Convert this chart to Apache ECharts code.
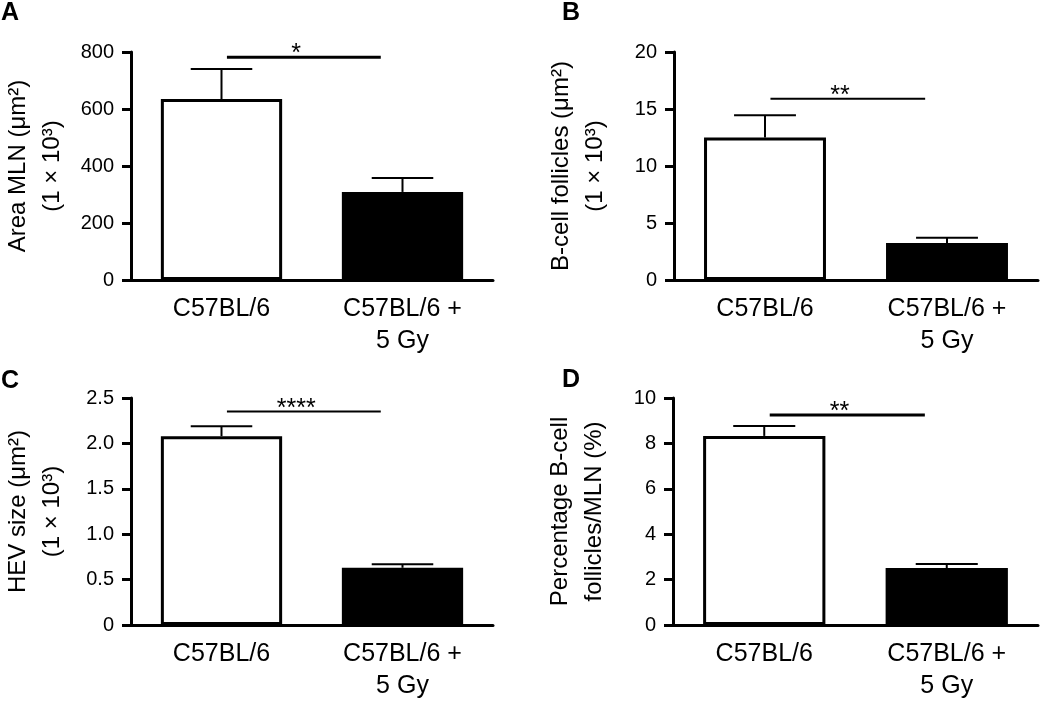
<!DOCTYPE html>
<html>
<head>
<meta charset="utf-8">
<title>MLN morphometry</title>
<script src="https://cdn.jsdelivr.net/npm/echarts@6/dist/echarts.min.js"></script>
<style>
  html, body { margin: 0; padding: 0; background: #fff; }
  #chart { width: 1050px; height: 702px; }
</style>
</head>
<body>
<div id="chart"></div>
<script>
// groups on the x axis
const categories = ['C57BL/6', 'C57BL/6 +\n5 Gy']

// A: area MLN (um2, x10^3)
const mlnArea = [635, 309]
const mlnAreaSem = [105, 49]
// B: B-cell follicles (um2, x10^3)
const follicleArea = [12.5, 3.25]
const follicleAreaSem = [1.95, 0.45]
// C: HEV size (um2, x10^3)
const hevSize = [2.08, 0.63]
const hevSizeSem = [0.11, 0.04]
// D: percentage B-cell follicles / MLN
const follicleShare = [8.33, 2.51]
const follicleShareSem = [0.44, 0.18]

// significance bars (height on each y axis) and their labels
const sigLevel = [782, 15.9, 2.35, 9.25]
const sigStars = ['*', '**', '****', '**']

// y axis ranges
const yMax = [800, 20, 2.5, 10]
const yStep = [200, 5, 0.5, 2]

const FONT = 'Liberation Sans, Arial, sans-serif'

// one entry per panel: where it sits and how it is labelled
const panels = [
  { letter: 'A', mean: mlnArea, sem: mlnAreaSem, name: 'Area MLN (μm²)\n(1 × 10³)',
    grid: { left: 122, right: 557, top: 52, height: 228 }, letterPos: [1, 1], sigWidth: 3, decimals: 0 },
  { letter: 'B', mean: follicleArea, sem: follicleAreaSem, name: 'B-cell follicles (μm²)\n(1 × 10³)',
    grid: { left: 674, right: 12, top: 52, height: 228 }, letterPos: [562, 1], sigWidth: 2, decimals: 0 },
  { letter: 'C', mean: hevSize, sem: hevSizeSem, name: 'HEV size (μm²)\n(1 × 10³)',
    grid: { left: 122, right: 557, top: 398, height: 227 }, letterPos: [1, 369], sigWidth: 2, decimals: 1 },
  { letter: 'D', mean: follicleShare, sem: follicleShareSem, name: 'Percentage B-cell\nfollicles/MLN (%)',
    grid: { left: 673, right: 12, top: 398, height: 227 }, letterPos: [562, 368], sigWidth: 3, decimals: 0 },
]

const chartInstance = echarts.init(document.getElementById('chart'), null, { renderer: 'canvas' })

const grids = []
const xAxes = []
const yAxes = []
const series = []
const graphics = []

panels.forEach((p, i) => {
  grids.push(Object.assign({ containLabel: false }, p.grid))

  xAxes.push({
    type: 'category',
    gridIndex: i,
    data: categories,
    axisLine: { lineStyle: { color: '#000', width: 3 } },
    axisTick: { show: false },
    axisLabel: { color: '#000', fontFamily: FONT, fontSize: 25, lineHeight: 32, margin: 13 },
  })

  yAxes.push({
    type: 'value',
    gridIndex: i,
    min: 0,
    max: yMax[i],
    interval: yStep[i],
    name: p.name,
    nameLocation: 'middle',
    nameRotate: 90,
    nameGap: 62,
    nameTextStyle: { color: '#000', fontFamily: FONT, fontSize: 24, lineHeight: 34 },
    splitLine: { show: false },
    axisLine: { show: true, lineStyle: { color: '#000', width: 3 } },
    axisTick: { show: true, length: 9, lineStyle: { color: '#000', width: 3 } },
    axisLabel: {
      color: '#000', fontFamily: FONT, fontSize: 20, margin: 17,
      formatter: (v) => (v === 0 ? '0' : v.toFixed(p.decimals)),
    },
  })

  // the two bars: open control, filled irradiated
  series.push({
    type: 'bar',
    xAxisIndex: i,
    yAxisIndex: i,
    barWidth: '67%',
    z: 2,
    data: p.mean.map((v, k) => ({
      value: v,
      itemStyle: k === 0
        ? { color: '#fff', borderColor: '#000', borderWidth: 3 }
        : { color: '#000', borderColor: '#000', borderWidth: 3 },
    })),
  })

  // upper error bars (SEM)
  series.push({
    type: 'custom',
    xAxisIndex: i,
    yAxisIndex: i,
    z: 3,
    data: p.mean.map((v, k) => [k, v, p.sem[k]]),
    renderItem: (params, api) => {
      const k = api.value(0)
      const base = api.coord([k, api.value(1)])
      const top = api.coord([k, api.value(1) + api.value(2)])
      const half = api.size([1, 0])[0] * 0.17
      const style = { stroke: '#000', lineWidth: 2 }
      return {
        type: 'group',
        children: [
          { type: 'line', shape: { x1: base[0], y1: base[1], x2: top[0], y2: top[1] }, style },
          { type: 'line', shape: { x1: top[0] - half, y1: top[1], x2: top[0] + half, y2: top[1] }, style },
        ],
      }
    },
  })

  // significance line with stars
  series.push({
    type: 'custom',
    xAxisIndex: i,
    yAxisIndex: i,
    z: 3,
    data: [[0, sigLevel[i]]],
    renderItem: (params, api) => {
      const band = api.size([1, 0])[0]
      const a = api.coord([0, api.value(1)])
      const b = api.coord([1, api.value(1)])
      const x0 = a[0] + band * 0.03
      const x1 = b[0] - band * 0.12
      return {
        type: 'group',
        children: [
          { type: 'line', shape: { x1: x0, y1: a[1], x2: x1, y2: a[1] },
            style: { stroke: '#000', lineWidth: p.sigWidth } },
          { type: 'text', x: x0 + (x1 - x0) * 0.45, y: a[1] - 3,
            style: { text: sigStars[i], fill: '#000', font: '25px ' + FONT, textAlign: 'center', textVerticalAlign: 'middle' } },
        ],
      }
    },
  })

  graphics.push({
    type: 'text',
    left: p.letterPos[0],
    top: p.letterPos[1],
    style: { text: p.letter, fill: '#000', font: 'bold 25px ' + FONT },
  })
})

chartInstance.setOption({
  backgroundColor: '#fff',
  animation: false,
  grid: grids,
  xAxis: xAxes,
  yAxis: yAxes,
  series: series,
  graphic: graphics,
})
</script>
</body>
</html>
